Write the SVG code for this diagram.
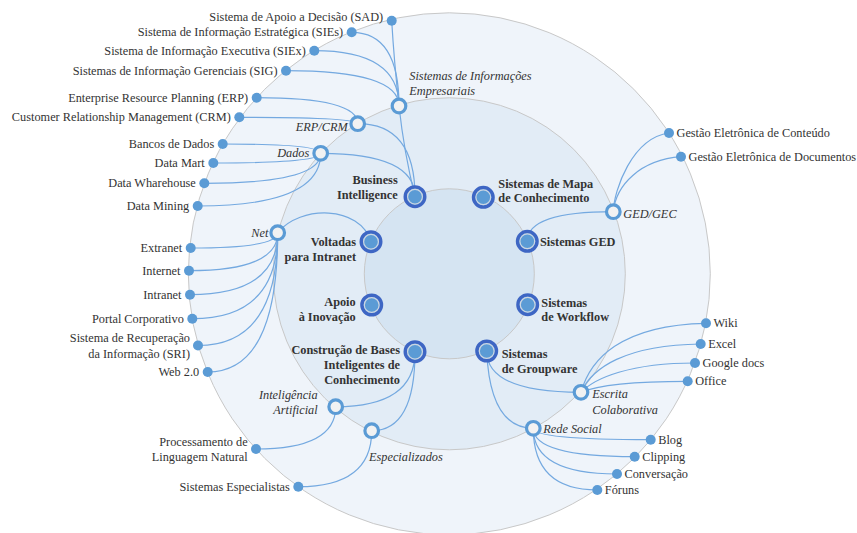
<svg xmlns="http://www.w3.org/2000/svg" width="857" height="533" viewBox="0 0 857 533">
  <style>
    text { font-family: "Liberation Serif", "DejaVu Serif", serif; font-size: 12.3px; fill: #333333; }
    .l1 { font-weight: bold; }
    .l2 { font-style: italic; }
    .end { text-anchor: end; }
    .ring { stroke: #c8c8c8; stroke-width: 1; }
    .link { fill: none; stroke: #74a9e0; stroke-width: 1.2; }
    .leaf { fill: #5b9bd5; }
    .hub { fill: #f2f2f2; stroke: #5b9bd5; stroke-width: 3.2; }
    .core { fill: #5b9bd5; stroke: #3e66c4; stroke-width: 3.4; }
    .halo { fill: none; stroke: #cdd6e2; stroke-width: 1.2; }
  </style>
  <defs>
    <g id="coreMark">
      <circle class="core" r="9.8"/>
      <circle class="halo" r="7.4"/>
    </g>
  </defs>
  <rect width="857" height="533" fill="#ffffff"/>

  <!-- concentric bands -->
  <g id="bands">
    <circle class="ring" cx="449.3" cy="273.8" r="261" fill="#eff4fa"/>
    <circle class="ring" cx="449.3" cy="273.8" r="176" fill="#e2ecf6"/>
    <circle class="ring" cx="449.3" cy="273.8" r="85" fill="#d5e4f2"/>
  </g>

  <!-- connectors -->
  <g id="connectors">
    <path class="link" d="M415,196.7 Q404,152 399,106"/>
    <path class="link" d="M415,196.7 Q415,123.7 357.7,123.7"/>
    <path class="link" d="M415,196.7 Q415,153.3 320.7,153.3"/>
    <path class="link" d="M371,241.7 C360,205 300,205 277.7,232.7"/>
    <path class="link" d="M527.3,241.3 Q527.3,211.7 613.3,211.7"/>
    <path class="link" d="M486.7,351 Q486.7,392.3 581,392.3"/>
    <path class="link" d="M486.7,351 Q490,428.3 533.3,428.3"/>
    <path class="link" d="M415,351.7 Q415,406.7 335.7,406.7"/>
    <path class="link" d="M415,351.7 Q415,430.7 371.7,430.7"/>

    <path class="link" d="M399,106 Q394,60 391.7,20.7"/>
    <path class="link" d="M399,106 Q399,32.3 351.7,32.3"/>
    <path class="link" d="M399,106 Q399,50.7 314.3,50.7"/>
    <path class="link" d="M399,106 Q399,70.7 286,70.7"/>

    <path class="link" d="M357.7,123.7 Q357.7,97.7 256.7,97.7"/>
    <path class="link" d="M357.7,123.7 Q357.7,117.3 239.3,117.3"/>

    <path class="link" d="M320.7,153.3 Q320.7,144 222.7,144"/>
    <path class="link" d="M320.7,153.3 Q320.7,163 213.3,163"/>
    <path class="link" d="M320.7,153.3 Q320.7,183.3 204.3,183.3"/>
    <path class="link" d="M320.7,153.3 Q320.7,206 197.7,206"/>

    <path class="link" d="M277.7,232.7 Q277.7,248 190.7,248"/>
    <path class="link" d="M277.7,232.7 Q277.7,270.7 189,270.7"/>
    <path class="link" d="M277.7,232.7 Q277.7,294.7 190,294.7"/>
    <path class="link" d="M277.7,232.7 Q277.7,318.7 192.3,318.7"/>
    <path class="link" d="M277.7,232.7 Q277.7,345.5 198,345.5"/>
    <path class="link" d="M277.7,232.7 Q277.7,372 207.7,372"/>

    <path class="link" d="M613.3,211.7 C614,190 632,138 669,133"/>
    <path class="link" d="M613.3,211.7 C616,185 640,160 681,156.7"/>

    <path class="link" d="M581,392.3 C590,360 620,325 706,323.3"/>
    <path class="link" d="M581,392.3 C592,368 625,345 700.7,344"/>
    <path class="link" d="M581,392.3 C595,378 630,363 695,363"/>
    <path class="link" d="M581,392.3 C600,384 640,381.3 687.7,381.3"/>

    <path class="link" d="M533.3,428.3 Q533.3,439.7 650.7,439.7"/>
    <path class="link" d="M533.3,428.3 Q533.3,456.7 634.7,456.7"/>
    <path class="link" d="M533.3,428.3 Q533.3,474 617,474"/>
    <path class="link" d="M533.3,428.3 Q533.3,490 597.3,490"/>

    <path class="link" d="M335.7,406.7 Q335.7,449 256,449"/>
    <path class="link" d="M371.7,430.7 Q371.7,486.7 298.3,486.7"/>
  </g>

  <!-- first ring: main categories -->
  <g id="n-bi"><use href="#coreMark" x="415" y="196.7"/><text class="l1 end" x="397.7" y="184">Business</text><text class="l1 end" x="397.7" y="199">Intelligence</text></g>
  <g id="n-mapa"><use href="#coreMark" x="483.3" y="197.3"/><text class="l1" x="498.3" y="188">Sistemas de Mapa</text><text class="l1" x="498.3" y="202.3">de Conhecimento</text></g>
  <g id="n-ged"><use href="#coreMark" x="527.3" y="241.3"/><text class="l1" x="540" y="245.7">Sistemas GED</text></g>
  <g id="n-workflow"><use href="#coreMark" x="527.7" y="304.7"/><text class="l1" x="541.3" y="306.7">Sistemas</text><text class="l1" x="541.3" y="321">de Workflow</text></g>
  <g id="n-groupware"><use href="#coreMark" x="486.7" y="351"/><text class="l1" x="501.7" y="358">Sistemas</text><text class="l1" x="501.7" y="373">de Groupware</text></g>
  <g id="n-construcao"><use href="#coreMark" x="415" y="351.7"/><text class="l1 end" x="400" y="354">Construção de Bases</text><text class="l1 end" x="400" y="369">Inteligentes de</text><text class="l1 end" x="400" y="384">Conhecimento</text></g>
  <g id="n-apoio"><use href="#coreMark" x="371.7" y="305"/><text class="l1 end" x="355.7" y="306.3">Apoio</text><text class="l1 end" x="355.7" y="321">à Inovação</text></g>
  <g id="n-intranet"><use href="#coreMark" x="371" y="241.7"/><text class="l1 end" x="356" y="245.7">Voltadas</text><text class="l1 end" x="356" y="261.3">para Intranet</text></g>

  <!-- second ring: groupings -->
  <g id="n-sie"><circle class="hub" cx="399" cy="106" r="6.8"/><text class="l2" x="409.3" y="79.7">Sistemas de Informações</text><text class="l2" x="409.3" y="95">Empresariais</text></g>
  <g id="n-erpcrm"><circle class="hub" cx="357.7" cy="123.7" r="6.8"/><text class="l2 end" x="347.7" y="130.7">ERP/CRM</text></g>
  <g id="n-dados"><circle class="hub" cx="320.7" cy="153.3" r="6.8"/><text class="l2 end" x="309.3" y="157.3">Dados</text></g>
  <g id="n-net"><circle class="hub" cx="277.7" cy="232.7" r="6.8"/><text class="l2 end" x="268.3" y="236.7">Net</text></g>
  <g id="n-gedgec"><circle class="hub" cx="613.3" cy="211.7" r="6.8"/><text class="l2" x="623.3" y="217.7">GED/GEC</text></g>
  <g id="n-escrita"><circle class="hub" cx="581" cy="392.3" r="6.8"/><text class="l2" x="592.3" y="398.3">Escrita</text><text class="l2" x="592.3" y="413.7">Colaborativa</text></g>
  <g id="n-rede"><circle class="hub" cx="533.3" cy="428.3" r="6.8"/><text class="l2" x="543.3" y="433">Rede Social</text></g>
  <g id="n-ia"><circle class="hub" cx="335.7" cy="406.7" r="6.8"/><text class="l2 end" x="317.7" y="399">Inteligência</text><text class="l2 end" x="317.7" y="414">Artificial</text></g>
  <g id="n-especializados"><circle class="hub" cx="371.7" cy="430.7" r="6.8"/><text class="l2" x="369" y="460.7">Especializados</text></g>

  <!-- outer ring: items -->
  <g id="n-sad"><circle class="leaf" cx="391.7" cy="20.7" r="5"/><text class="end" x="383.2" y="21.3">Sistema de Apoio a Decisão (SAD)</text></g>
  <g id="n-sies"><circle class="leaf" cx="351.7" cy="32.3" r="5"/><text class="end" x="343.2" y="36.3">Sistema de Informação Estratégica (SIEs)</text></g>
  <g id="n-siex"><circle class="leaf" cx="314.3" cy="50.7" r="5"/><text class="end" x="305.8" y="54.7">Sistema de Informação Executiva (SIEx)</text></g>
  <g id="n-sig"><circle class="leaf" cx="286" cy="70.7" r="5"/><text class="end" x="277.5" y="74.7">Sistemas de Informação Gerenciais (SIG)</text></g>
  <g id="n-erp"><circle class="leaf" cx="256.7" cy="97.7" r="5"/><text class="end" x="248.2" y="101.7">Enterprise Resource Planning (ERP)</text></g>
  <g id="n-crm"><circle class="leaf" cx="239.3" cy="117.3" r="5"/><text class="end" x="230.8" y="121.3">Customer Relationship Management (CRM)</text></g>
  <g id="n-bancos"><circle class="leaf" cx="222.7" cy="144" r="5"/><text class="end" x="214.2" y="148">Bancos de Dados</text></g>
  <g id="n-datamart"><circle class="leaf" cx="213.3" cy="163" r="5"/><text class="end" x="204.8" y="167">Data Mart</text></g>
  <g id="n-dw"><circle class="leaf" cx="204.3" cy="183.3" r="5"/><text class="end" x="195.8" y="187.3">Data Wharehouse</text></g>
  <g id="n-dm"><circle class="leaf" cx="197.7" cy="206" r="5"/><text class="end" x="189.2" y="210">Data Mining</text></g>
  <g id="n-extranet"><circle class="leaf" cx="190.7" cy="248" r="5"/><text class="end" x="182.2" y="252">Extranet</text></g>
  <g id="n-internet"><circle class="leaf" cx="189" cy="270.7" r="5"/><text class="end" x="180.5" y="274.7">Internet</text></g>
  <g id="n-intranet-item"><circle class="leaf" cx="190" cy="294.7" r="5"/><text class="end" x="181.5" y="298.7">Intranet</text></g>
  <g id="n-portal"><circle class="leaf" cx="192.3" cy="318.7" r="5"/><text class="end" x="183.8" y="322.7">Portal Corporativo</text></g>
  <g id="n-sri"><circle class="leaf" cx="198" cy="345.5" r="5"/><text class="end" x="190" y="342">Sistema de Recuperação</text><text class="end" x="190" y="358">da Informação (SRI)</text></g>
  <g id="n-web"><circle class="leaf" cx="207.7" cy="372" r="5"/><text class="end" x="199.2" y="376">Web 2.0</text></g>
  <g id="n-pln"><circle class="leaf" cx="256" cy="449" r="5"/><text class="end" x="247.7" y="445.7">Processamento de</text><text class="end" x="247.7" y="460.7">Linguagem Natural</text></g>
  <g id="n-se"><circle class="leaf" cx="298.3" cy="486.7" r="5"/><text class="end" x="289.8" y="490.7">Sistemas Especialistas</text></g>
  <g id="n-gec"><circle class="leaf" cx="669" cy="133" r="5"/><text x="676.5" y="137">Gestão Eletrônica de Conteúdo</text></g>
  <g id="n-geddoc"><circle class="leaf" cx="681" cy="156.7" r="5"/><text x="688.5" y="160.7">Gestão Eletrônica de Documentos</text></g>
  <g id="n-wiki"><circle class="leaf" cx="706" cy="323.3" r="5"/><text x="713.5" y="327.3">Wiki</text></g>
  <g id="n-excel"><circle class="leaf" cx="700.7" cy="344" r="5"/><text x="708.2" y="348">Excel</text></g>
  <g id="n-gdocs"><circle class="leaf" cx="695" cy="363" r="5"/><text x="702.5" y="367">Google docs</text></g>
  <g id="n-office"><circle class="leaf" cx="687.7" cy="381.3" r="5"/><text x="695.2" y="385.3">Office</text></g>
  <g id="n-blog"><circle class="leaf" cx="650.7" cy="439.7" r="5"/><text x="658.2" y="443.7">Blog</text></g>
  <g id="n-clipping"><circle class="leaf" cx="634.7" cy="456.7" r="5"/><text x="642.2" y="460.7">Clipping</text></g>
  <g id="n-conversacao"><circle class="leaf" cx="617" cy="474" r="5"/><text x="624.5" y="478">Conversação</text></g>
  <g id="n-foruns"><circle class="leaf" cx="597.3" cy="490" r="5"/><text x="604.8" y="494">Fóruns</text></g>
</svg>
